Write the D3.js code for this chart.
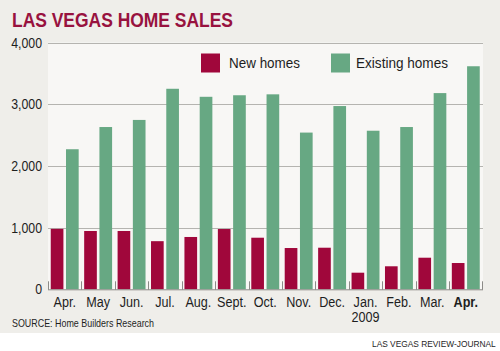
<!DOCTYPE html>
<html lang="en">
<head>
  <meta charset="UTF-8" />
  <title>Las Vegas home sales</title>
  <script src="https://d3js.org/d3.v7.min.js"></script>
  <style>
    body { margin: 0; background: #fff; }
    svg { display: block; }
    text { font-family: "Liberation Sans", Arial, sans-serif; fill: #1e1e1e; }
  </style>
</head>
<body>

<svg width="500" height="351"></svg>

<script>
  // data
  const months = ["Apr.", "May", "Jun.", "Jul.", "Aug.", "Sept.", "Oct.", "Nov.", "Dec.", "Jan.", "Feb.", "Mar.", "Apr."];
  const newHomes = [980, 945, 945, 780, 848, 977, 836, 669, 674, 269, 373, 512, 426];
  const existingHomes = [2270, 2630, 2745, 3250, 3120, 3145, 3160, 2540, 2970, 2570, 2630, 3180, 3615];
  const seriesNames = ["New homes", "Existing homes"];
  const yTicks = [0, 1000, 2000, 3000, 4000];

  const colors = ["#a0073b", "#67a883"];

  const svg = d3.select("svg"),
        width = +svg.attr("width"),
        height = +svg.attr("height");

  const plot = { left: 48, right: 483, top: 42.5, bottom: 289.3 };

  // squeeze text horizontally (the original face is a narrow one)
  function squeeze(sel, k) {
    sel.each(function() {
      const w = this.getComputedTextLength();
      d3.select(this).attr("textLength", w * k).attr("lengthAdjust", "spacingAndGlyphs");
    });
  }
  function fitTo(sel, w) {
    sel.attr("textLength", w).attr("lengthAdjust", "spacingAndGlyphs");
  }

  // backgrounds
  svg.append("rect").attr("width", width).attr("height", 333).attr("fill", "#efeeea");
  svg.append("rect")
    .attr("x", plot.left).attr("y", plot.top)
    .attr("width", plot.right - plot.left).attr("height", plot.bottom - plot.top)
    .attr("fill", "#f8f7f5");

  const x = d3.scaleBand()
    .domain(d3.range(months.length))
    .range([plot.left, 482.5]);

  const xInner = d3.scaleBand()
    .domain(seriesNames)
    .range([0, x.bandwidth()])
    .paddingInner(0.17)
    .paddingOuter(0.18);

  const y = d3.scaleLinear()
    .domain([0, 4000])
    .range([plot.bottom, plot.top]);

  // gridlines
  svg.append("g")
    .selectAll("line")
    .data(yTicks.filter(d => d > 0))
    .join("line")
    .attr("x1", plot.left).attr("x2", plot.right)
    .attr("y1", d => Math.round(y(d)) + 0.5).attr("y2", d => Math.round(y(d)) + 0.5)
    .attr("stroke", "#b5b4b0");

  // y labels
  svg.append("g")
    .selectAll("text")
    .data(yTicks)
    .join("text")
    .attr("x", 42)
    .attr("y", d => y(d) + 5)
    .attr("text-anchor", "end")
    .style("font-size", "14px")
    .text(d => d3.format(",")(d))
    .call(squeeze, 0.88);

  // bars
  const rows = months.map((m, i) => ({ i, values: [newHomes[i], existingHomes[i]] }));

  const group = svg.append("g")
    .selectAll("g")
    .data(rows)
    .join("g")
    .attr("transform", d => `translate(${x(d.i)},0)`);

  group.selectAll("rect")
    .data(d => d.values.map((v, k) => ({ key: seriesNames[k], k, v })))
    .join("rect")
    .attr("x", d => xInner(d.key))
    .attr("width", xInner.bandwidth())
    .attr("y", d => y(d.v))
    .attr("height", d => y(0) - y(d.v))
    .attr("fill", d => colors[d.k]);

  // x axis baseline and ticks
  svg.append("line")
    .attr("x1", plot.left).attr("x2", plot.right)
    .attr("y1", plot.bottom + 0.5).attr("y2", plot.bottom + 0.5)
    .attr("stroke", "#8c8b88");

  svg.append("g")
    .selectAll("line")
    .data(d3.range(months.length + 1))
    .join("line")
    .attr("x1", d => Math.round(plot.left + d * x.step()) + 0.5)
    .attr("x2", d => Math.round(plot.left + d * x.step()) + 0.5)
    .attr("y1", plot.bottom - 8).attr("y2", plot.bottom + 0.5)
    .attr("stroke", "#8c8b88");

  // month labels
  svg.append("g")
    .selectAll("text")
    .data(months)
    .join("text")
    .attr("x", (d, i) => x(i) + x.bandwidth() / 2)
    .attr("y", 307)
    .attr("text-anchor", "middle")
    .style("font-size", "14px")
    .style("font-weight", (d, i) => i === months.length - 1 ? "bold" : "normal")
    .text(d => d)
    .call(squeeze, 0.9);

  svg.append("text")
    .attr("x", x(9) + x.bandwidth() / 2)
    .attr("y", 322)
    .attr("text-anchor", "middle")
    .style("font-size", "14px")
    .text("2009")
    .call(squeeze, 0.9);

  // legend
  const legend = svg.append("g")
    .selectAll("g")
    .data(seriesNames)
    .join("g")
    .attr("transform", (d, i) => `translate(${i === 0 ? 201 : 331},53.5)`);

  legend.append("rect")
    .attr("width", 19).attr("height", 19)
    .attr("fill", (d, i) => colors[i]);

  legend.append("text")
    .attr("x", d => d === "New homes" ? 28 : 25)
    .attr("y", 14)
    .style("font-size", "15.5px")
    .text(d => d)
    .each(function(d) { fitTo(d3.select(this), d === "New homes" ? 71 : 92); });

  // title and notes
  svg.append("text")
    .attr("x", 12)
    .attr("y", 27)
    .style("font-size", "21px")
    .style("font-weight", "bold")
    .style("fill", "#98123f")
    .text("LAS VEGAS HOME SALES")
    .call(fitTo, 221);

  svg.append("text")
    .attr("x", 12)
    .attr("y", 327)
    .style("font-size", "11.5px")
    .text("SOURCE: Home Builders Research")
    .call(fitTo, 142);

  // credit line: narrowed with a transform so its box stays inside the frame
  svg.append("text")
    .attr("transform", "translate(372,347) scale(0.88,1)")
    .style("font-size", "9.5px")
    .text("LAS VEGAS REVIEW-JOURNAL");
</script>

</body>
</html>
